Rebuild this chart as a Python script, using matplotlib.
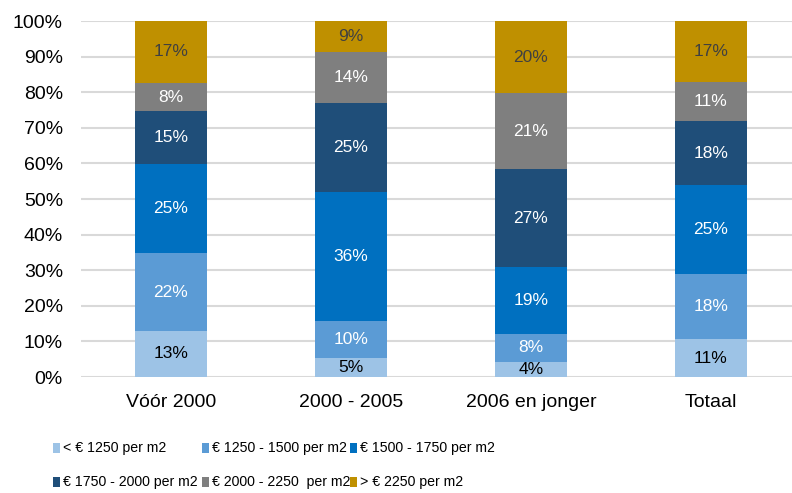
import matplotlib
matplotlib.use("Agg")
import matplotlib.pyplot as plt
import numpy as np
from matplotlib.patches import Rectangle

plt.rcParams['font.family'] = ['Liberation Sans', 'DejaVu Sans']

categories = ["Vóór 2000", "2000 - 2005", "2006 en jonger", "Totaal"]
series_names = ["< € 1250 per m2", "€ 1250 - 1500 per m2", "€ 1500 - 1750 per m2",
                "€ 1750 - 2000 per m2", "€ 2000 - 2250  per m2", "> € 2250 per m2"]
lt_1250 = [13.0, 5.4, 4.2, 10.6]
r1250_1500 = [21.7, 10.3, 7.9, 18.3]
r1500_1750 = [25.0, 36.3, 18.9, 24.9]
r1750_2000 = [14.9, 25.1, 27.3, 18.0]
r2000_2250 = [8.0, 14.1, 21.4, 11.0]
gt_2250 = [17.4, 8.8, 20.3, 17.2]
series = [lt_1250, r1250_1500, r1500_1750, r1750_2000, r2000_2250, gt_2250]
colors = ["#9DC3E6", "#5B9BD5", "#0070C0", "#1F4E79", "#7F7F7F", "#BF9000"]
label_colors = ["#000000", "white", "white", "white", "white", "#404040"]

W, H = 792, 493
fig = plt.figure(figsize=(W/100, H/100), dpi=100)
ax = fig.add_axes([81/W, 1 - 377/H, 711/W, (377 - 21)/H])

x = np.arange(len(categories))
bottom = np.zeros(len(categories))
for vals, c, lc, name in zip(series, colors, label_colors, series_names):
    vals = np.array(vals)
    ax.bar(x, vals, 0.4, bottom=bottom, color=c, label=name, zorder=3)
    for xi, b, v in zip(x, bottom, vals):
        ax.text(xi, b + v / 2, f"{int(round(v))}%", ha="center", va="center",
                color=lc, fontsize=12.5, zorder=4)
    bottom += vals

ax.set_xlim(-0.5, -0.5 + 711/180)
ax.set_ylim(0, 100)
ax.set_yticks(np.arange(0, 101, 10))
ax.set_yticklabels([f"{v}%" for v in range(0, 101, 10)])
ax.set_xticks(x)
ax.set_xticklabels(categories)
ax.tick_params(axis="both", length=0, labelsize=14, colors="#000000")
ax.tick_params(axis="y", pad=13)
ax.tick_params(axis="x", pad=12)
ax.yaxis.grid(True, color="#D9D9D9", linewidth=1.5, zorder=0)
ax.set_axisbelow(True)
for s in ax.spines.values():
    s.set_visible(False)

# Legend, laid out row by row (3 per row)
col_x = [53, 202, 350]
row_y = [448, 482]
for i, (name, c) in enumerate(zip(series_names, colors)):
    r, k = divmod(i, 3)
    mx, my = col_x[k], row_y[r]
    fig.patches.append(Rectangle((mx / W, 1 - (my + 5) / H), 7 / W, 10 / H,
                                 transform=fig.transFigure, facecolor=c,
                                 edgecolor="none"))
    fig.text((mx + 10) / W, 1 - my / H, name, ha="left", va="center",
             fontsize=10.2, color="#000000")

fig.savefig("out.png", dpi=100)
